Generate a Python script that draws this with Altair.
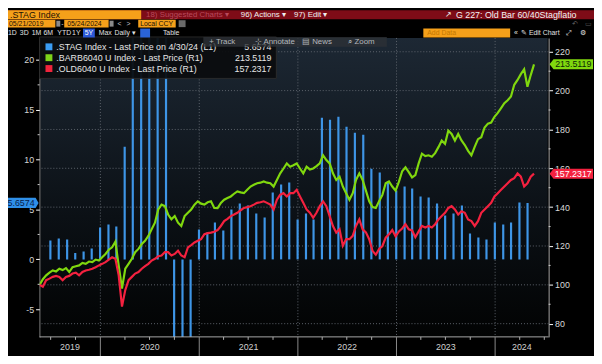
import altair as alt
import pandas as pd

FONT = "Liberation Sans"
BLUE = "#3e95e6"
GREEN = "#80d80e"
RED = "#f4213f"
ORANGE = "#f5a01a"

# ---------------- data ----------------
# .STAG Index, monthly (month ends Jun-2019 .. Apr-2024), left axis
stag_values = [1.9, 2.1, 2.0, 0.65, 0.8, 1.1, 3.2,
               3.5, 3.3, 11.3, 28.0, 30.0, 27.0, 26.0, 25.0, -12.0, -11.0, -10.0, 3.0,
               2.7, 3.7, 2.9, 5.0, 5.6, 5.4, 4.6, 4.2, 6.7, 7.5, 7.7, 4.0,
               4.6, 4.0, 14.2, 14.0, 14.3, 13.3, 12.7, 12.5, 9.1, 8.7, 7.8, 6.9,
               7.3, 7.1, 6.3, 6.2, 5.6, 4.4, 4.6, 5.4, 2.6, 2.2, 2.0, 3.7,
               3.5, 3.7, 5.7, 5.6574]
stag_months = pd.period_range("2019-06", "2024-04", freq="M").to_timestamp(how="end").normalize()

# .BARB6040 U Index (green) and .OLD6040 U Index (red), right axis
barb_values = [
    100.0, 102.9, 104.9, 106.3, 107.4, 106.9, 108.3, 107.6, 108.6, 106.6,
    109.1, 109.6, 110.0, 111.3, 110.8, 112.0, 111.7, 113.0, 112.5, 114.2,
    115.9, 118.1, 119.3, 122.2, 110.0, 98.1, 108.3, 110.8, 113.4, 116.8,
    118.5, 121.0, 122.7, 125.2, 128.6, 132.0, 138.8, 141.3, 140.5, 136.2,
    133.7, 135.4, 132.0, 130.3, 135.4, 137.1, 138.8, 141.3, 143.0, 141.8,
    141.3, 142.5, 143.0, 139.6, 139.5, 142.2, 143.8, 144.7, 145.5, 146.9,
    148.1, 147.6, 147.2, 148.9, 150.6, 151.5, 152.3, 152.6, 153.2, 152.6,
    152.3, 150.6, 154.0, 157.4, 159.9, 162.5, 160.8, 161.6, 162.5, 159.9,
    157.4, 160.8, 159.4, 159.9, 161.1, 162.5, 166.7, 164.2, 162.5, 157.4,
    154.0, 155.7, 150.6, 147.2, 143.8, 147.2, 154.0, 157.4, 154.0, 148.5,
    143.0, 140.0, 139.6, 143.0, 146.3, 152.3, 153.2, 150.6, 148.5, 153.0,
    158.5, 160.5, 158.0, 155.3, 156.5, 162.5, 167.5, 166.3, 166.7, 166.0,
    167.8, 170.9, 174.3, 172.6, 179.4, 177.7, 174.3, 177.7, 174.3, 172.0,
    169.0, 166.7, 171.0, 175.0, 176.0, 181.0, 183.0, 183.5, 186.5, 188.5,
    191.0, 193.5, 195.0, 197.0, 203.0, 205.5, 208.5, 211.0, 202.0, 208.0,
    213.5119]
old_values = [
    100.0, 99.0, 102.4, 103.2, 104.1, 104.6, 104.1, 102.4, 104.1, 104.6,
    105.8, 106.3, 104.9, 106.6, 107.4, 107.8, 108.3, 109.1, 110.0, 110.8,
    111.7, 113.0, 114.2, 113.4, 104.9, 88.8, 97.3, 102.4, 104.1, 105.8,
    106.6, 108.3, 109.6, 110.8, 112.5, 113.4, 114.7, 115.1, 116.8, 116.8,
    115.1, 115.9, 117.6, 115.1, 114.2, 119.3, 120.5, 121.8, 122.7, 123.5,
    126.1, 126.6, 126.9, 127.3, 128.2, 130.3, 132.8, 134.0, 135.4, 136.2,
    137.1, 138.4, 139.6, 140.0, 140.5, 141.3, 142.2, 142.5, 143.0, 142.2,
    141.3, 138.8, 143.8, 146.4, 147.2, 145.5, 147.2, 147.2, 148.9, 145.5,
    142.2, 138.8, 137.1, 134.5, 137.1, 140.5, 143.0, 140.5, 135.4, 130.3,
    126.9, 128.6, 120.1, 123.5, 123.5, 125.2, 130.3, 133.7, 128.6, 127.0,
    123.5, 117.5, 115.5, 118.5, 120.0, 124.3, 126.0, 128.2, 125.0, 127.5,
    129.0, 131.2, 128.6, 128.0, 124.5, 127.5, 130.3, 129.5, 130.3, 129.5,
    131.2, 133.7, 135.4, 137.1, 139.6, 140.5, 138.8, 136.2, 137.9, 137.1,
    133.7, 132.8, 130.3, 132.8, 137.1, 138.8, 140.5, 142.2, 145.5, 147.2,
    148.9, 150.6, 152.3, 154.0, 154.9, 157.4, 155.7, 150.6, 152.3, 155.7,
    157.2317]
line_dates = pd.date_range("2019-05-21", "2024-05-24", periods=len(barb_values))

left_ticks = [-5, 0, 5, 10, 15, 20]
left_minor = [-2.5, 2.5, 7.5, 12.5, 17.5]
right_ticks = [80, 100, 120, 140, 160, 180, 200, 220]
right_minor = [90, 110, 130, 150, 170, 190, 210]
year_names = ["2019", "2020", "2021", "2022", "2023", "2024"]

# ---------------- tables ----------------
bars_df = pd.DataFrame({"date": stag_months, "stag": stag_values})
lines_df = pd.DataFrame({"date": line_dates, "barb": barb_values, "old": old_values})
x_start, x_end = pd.Timestamp("2019-05-21"), pd.Timestamp("2024-07-17")
year_starts = pd.to_datetime([f"{y}-01-01" for y in year_names[1:]])
edges = [x_start] + list(year_starts) + [x_end]
year_df = pd.DataFrame({"year": year_names,
                        "mid": [edges[i] + (edges[i + 1] - edges[i]) / 2 for i in range(len(year_names))]})
bound_df = pd.DataFrame({"d": year_starts})
quarters = pd.date_range("2019-07-01", "2024-07-01", freq="QS")
quarter_df = pd.DataFrame({"d": [q for q in quarters if q.month != 1]})

W, H = 516, 303
xs = alt.Scale(domain=[alt.DateTime(year=2019, month=5, date=21),
                       alt.DateTime(year=2024, month=7, date=17)])
ls = alt.Scale(domain=[-7.77, 22.2], nice=False, zero=False)
rs = alt.Scale(domain=[73.2, 227.1], nice=False, zero=False)
one = pd.DataFrame({"a": [0]})


def box(x0, x1, y0, y1, fill, opacity=1.0, stroke=None):
    kw = dict(fill=fill, opacity=opacity)
    if stroke:
        kw.update(stroke=stroke, strokeWidth=1)
    else:
        kw.update(strokeWidth=0)
    return alt.Chart(one).mark_rect(**kw).encode(
        x=alt.value(x0), x2=alt.value(x1), y=alt.value(y0), y2=alt.value(y1))


def label(s, x, y, color="#e6e6e6", size=8.5, align="left", weight="normal"):
    return alt.Chart(one).mark_text(text=s, color=color, fontSize=size, align=align,
                                    baseline="middle", font=FONT, fontWeight=weight).encode(
        x=alt.value(x), y=alt.value(y))


X = alt.X("date:T", scale=xs, axis=None)

bg = alt.Chart(one).mark_rect(fill=alt.LinearGradient(
    gradient="linear", x1=0, x2=0, y1=0, y2=1,
    stops=[alt.GradientStop(color="#1d2834", offset=0),
           alt.GradientStop(color="#0b1015", offset=0.6),
           alt.GradientStop(color="#020303", offset=1)])).encode(
    x=alt.value(1), x2=alt.value(W - 1), y=alt.value(0), y2=alt.value(H))

hgrid = alt.Chart(pd.DataFrame({"g": right_ticks})).mark_rule(
    color="#5f666e", strokeDash=[1, 2], strokeWidth=1).encode(
    y=alt.Y("g:Q", scale=rs, axis=None))
vgrid = alt.Chart(bound_df).mark_rule(color="#5f666e", strokeDash=[1, 2], strokeWidth=1).encode(
    x=alt.X("d:T", scale=xs, axis=None))

left_axis = alt.Axis(orient="left", values=left_ticks, title=None, grid=False,
                     domainColor="#a8a8a8", tickColor="#ffffff", tickSize=4,
                     labelColor="#d4d4d4", labelFontSize=9, labelFont=FONT,
                     labelPadding=2, zindex=0, labelExpr="'' + datum.value")
right_axis = alt.Axis(orient="right", values=right_ticks, title=None, grid=False,
                      domainColor="#a8a8a8", tickColor="#ffffff", tickSize=4,
                      labelColor="#d8d8d8", labelFontSize=9, labelFont=FONT,
                      labelPadding=2, zindex=0)

bars = alt.Chart(bars_df).mark_rule(color=BLUE, strokeWidth=2.2, clip=True).encode(
    x=X, y=alt.Y("stag:Q", scale=ls, axis=left_axis), y2=alt.datum(0))

green = alt.Chart(lines_df).mark_line(color=GREEN, strokeWidth=2.2, clip=True).encode(
    x=X, y=alt.Y("barb:Q", scale=rs, axis=right_axis))
red = alt.Chart(lines_df).mark_line(color=RED, strokeWidth=2.2, clip=True).encode(
    x=X, y=alt.Y("old:Q", scale=rs, axis=None))

lminor = alt.Chart(pd.DataFrame({"m": left_minor})).mark_rule(color="#cfcfcf").encode(
    y=alt.Y("m:Q", scale=ls, axis=None), x=alt.value(-2), x2=alt.value(0))
rminor = alt.Chart(pd.DataFrame({"m": right_minor})).mark_rule(color="#cfcfcf").encode(
    y=alt.Y("m:Q", scale=rs, axis=None), x=alt.value(W), x2=alt.value(W + 2))

# x axis pieces
xline = alt.Chart(one).mark_rule(color="#a8a8a8").encode(
    x=alt.value(0), x2=alt.value(W), y=alt.value(H))
seps = alt.Chart(bound_df).mark_rule(color="#8a8a8a").encode(
    x=alt.X("d:T", scale=xs, axis=None), y=alt.value(H), y2=alt.value(H + 20))
qticks = alt.Chart(quarter_df).mark_rule(color="#b0b0b0").encode(
    x=alt.X("d:T", scale=xs, axis=None), y=alt.value(H), y2=alt.value(H + 3))
ylabels = alt.Chart(year_df).mark_text(color="#d0d0d0", fontSize=9, font=FONT,
                                       baseline="middle").encode(
    x=alt.X("mid:T", scale=xs, axis=None), y=alt.value(H + 10), text="year:N")

# value tags
RTAG = "M -1 0 L -0.82 -0.23 L 1 -0.23 L 1 0.23 L -0.82 0.23 Z"
LTAG = "M 1 0 L 0.85 -0.26 L -1 -0.26 L -1 0.26 L 0.85 0.26 Z"
g_last = pd.DataFrame({"v": [barb_values[-1]], "t": [f"{barb_values[-1]:.4f}"]})
r_last = pd.DataFrame({"v": [old_values[-1]], "t": [f"{old_values[-1]:.4f}"]})
s_last = pd.DataFrame({"v": [stag_values[-1]], "t": [f"{stag_values[-1]:.4f}"]})

g_tag = alt.Chart(g_last).mark_point(shape=RTAG, size=1936, filled=True, fill=GREEN,
                                     opacity=1, strokeWidth=0).encode(
    x=alt.value(539), y=alt.Y("v:Q", scale=rs, axis=None))
g_txt = alt.Chart(g_last).mark_text(color="#0d2a05", fontSize=9, font=FONT).encode(
    x=alt.value(541), y=alt.Y("v:Q", scale=rs, axis=None), text="t:N")
r_tag = alt.Chart(r_last).mark_point(shape=RTAG, size=1936, filled=True, fill=RED,
                                     opacity=1, strokeWidth=0).encode(
    x=alt.value(539), y=alt.Y("v:Q", scale=rs, axis=None))
r_txt = alt.Chart(r_last).mark_text(color="#ffffff", fontSize=9, font=FONT).encode(
    x=alt.value(541), y=alt.Y("v:Q", scale=rs, axis=None), text="t:N")
s_tag = alt.Chart(s_last).mark_point(shape=LTAG, size=1600, filled=True, fill="#2f8fe8",
                                     opacity=1, strokeWidth=0).encode(
    x=alt.value(-21), y=alt.Y("v:Q", scale=ls, axis=None))
s_txt = alt.Chart(s_last).mark_text(color="#08204a", fontSize=9, font=FONT, align="right").encode(
    x=alt.value(-5), y=alt.Y("v:Q", scale=ls, axis=None), text="t:N")

# legend box
legend = [
    box(0, 240, -1, 41, "#0a0c0e", 0.93, stroke="#2c2c2c"),
    box(6, 13, 5.5, 12.5, "#3a9df5"),
    box(6, 13, 16.5, 23.5, "#7ed31a"),
    box(6, 13, 27.5, 34.5, "#f0243c"),
    label(".STAG Index - Last Price on 4/30/24 (L1)", 17, 9, size=9),
    label(".BARB6040 U Index - Last Price (R1)", 17, 20, size=9),
    label(".OLD6040 U Index - Last Price (R1)", 17, 31, size=9),
    label("5.6574", 235, 9, size=9, align="right"),
    label("213.5119", 235, 20, size=9, align="right"),
    label("157.2317", 235, 31, size=9, align="right"),
]

# chart toolbar overlay
toolbar = [
    box(166, 352, -1, 9, "#2d3136", 0.8),
    label("+ Track", 172, 4.5, color="#b4b8bd", size=8),
    label("⊹ Annotate", 218, 4.5, color="#b4b8bd", size=8),
    label("▤ News", 266, 4.5, color="#b4b8bd", size=8),
    label("⌕ Zoom", 313, 4.5, color="#b4b8bd", size=8),
]

# terminal header rows
HS = 7
header = [
    box(-40, 562, -28, -19, "#7e0c17"),
    box(-40, 103, -28, -19, ORANGE),
    label(".STAG Index", -30, -23.5, color="#1a1005", size=9),
    label("18) Suggested Charts ▾", 108, -23.5, color="#b84a5c", size=8),
    label("96) Actions ▾", 204, -23.5, color="#f0f0f0", size=8),
    label("97) Edit ▾", 258, -23.5, color="#f0f0f0", size=8),
    label("↗", 411, -23.5, color="#f0f0f0", size=8),
    label("G 227: Old Bar 60/40Stagflatio", 422, -23.5, color="#f4f4f4", size=9),
    box(-34, 16, -18.5, -10.5, ORANGE),
    label("05/21/2019", -31, -14.5, color="#1a1005", size=HS),
    box(17, 21, -17.5, -11.5, "#8a8a8a"),
    label("-", 22, -14.5, color="#d0d0d0", size=HS),
    box(25, 70, -18.5, -10.5, ORANGE),
    label("05/24/2024", 28, -14.5, color="#1a1005", size=HS),
    box(71, 75, -17.5, -11.5, "#8a8a8a"),
    label("<", 79, -14.5, color="#c8c8c8", size=HS),
    label(">", 88, -14.5, color="#c8c8c8", size=HS),
    box(100, 138, -18.5, -10.5, ORANGE),
    label("Local CCY", 102, -14.5, color="#1a1005", size=HS),
    box(141, 148, -18, -11, "#6a6a6a"),
    label("↶", 540, -14.5, color="#666666", size=HS),
    label("▭", 553, -14.5, color="#555555", size=HS),
    label("1D", -32, -5, color="#e0e0e0", size=HS),
    label("3D", -20, -5, color="#e0e0e0", size=HS),
    label("1M", -8, -5, color="#e0e0e0", size=HS),
    label("6M", 4, -5, color="#e0e0e0", size=HS),
    label("YTD", 18, -5, color="#e0e0e0", size=HS),
    label("1Y", 33, -5, color="#e0e0e0", size=HS),
    box(44, 56, -9.5, -0.5, "#2a58d6"),
    label("5Y", 50, -5, color="#ffffff", size=HS, align="center"),
    label("Max", 60, -5, color="#e0e0e0", size=HS),
    label("Daily ▾", 76, -5, color="#e0e0e0", size=HS),
    box(102, 112, -9.5, -0.5, "#2a64d8"),
    label("Table", 125, -5, color="#e0e0e0", size=HS),
    box(389, 477, -9.5, -0.5, ORANGE),
    label("Add Data", 393, -5, color="#c47800", size=HS),
    label("«", 481, -5, color="#e0e0e0", size=HS),
    label("✎ Edit Chart", 488, -5, color="#e0e0e0", size=HS),
    label("⤢", 534, -5, color="#e0e0e0", size=HS),
    label("⚙", 548, -5, color="#e0e0e0", size=HS),
]

layers = ([bg, hgrid, vgrid, bars, green, red, lminor, rminor,
           xline, seps, qticks, ylabels, g_tag, g_txt, r_tag, r_txt, s_tag, s_txt]
          + legend + toolbar + header)

chart = alt.layer(*layers).resolve_scale(y="independent").properties(
    width=W, height=H,
    padding={"left": 32, "top": 28, "right": 46, "bottom": 17},
    autosize=alt.AutoSizeParams(type="none"),
    background="#000000",
).configure_view(stroke=None)

chart.save("out.html", embed_options={"renderer": "svg", "actions": False})
